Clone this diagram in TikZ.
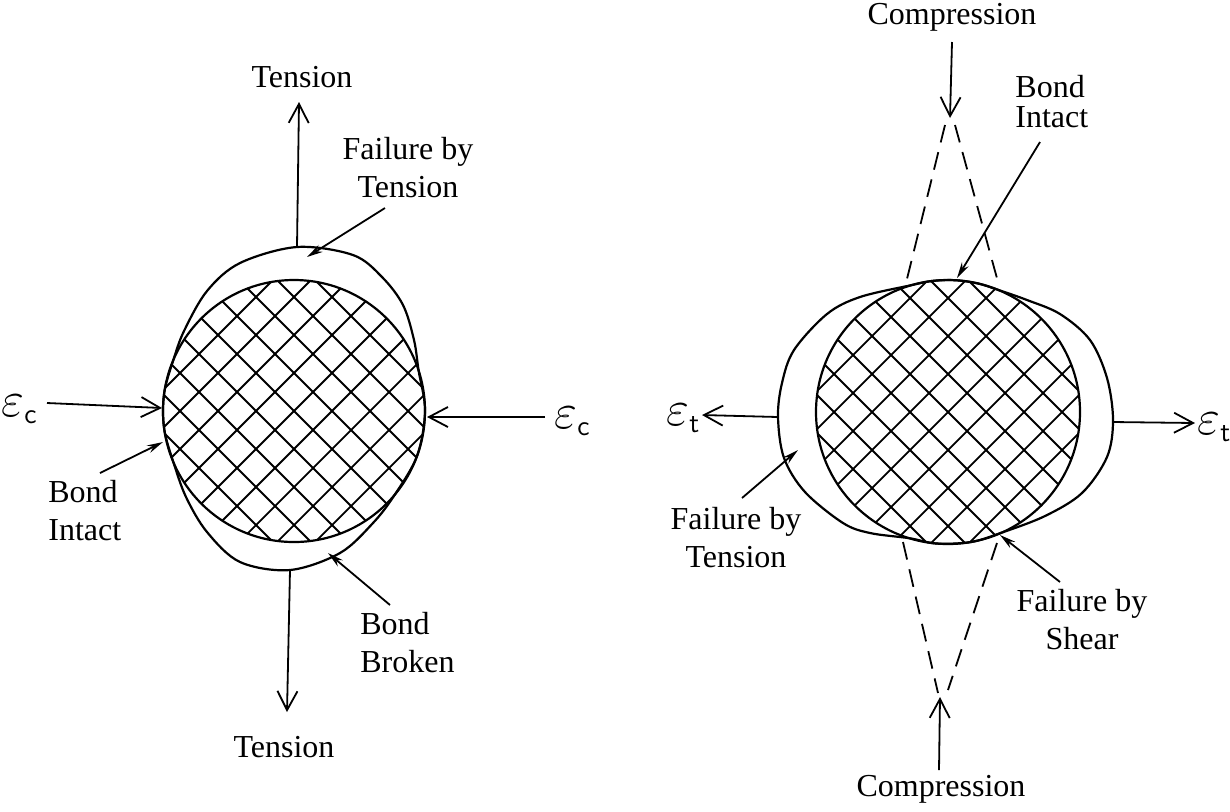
\documentclass[tikz,border=0pt]{standalone}
\usepackage{fontspec}
\setmainfont{Liberation Serif}
\usetikzlibrary{arrows.meta}

\newcommand{\strainsym}[1]{{\fontsize{25}{25}\selectfont$\varepsilon$}\raisebox{-3.5pt}{\fontsize{14}{14}\selectfont\sffamily #1}}

\begin{document}
\begin{tikzpicture}[x=0.5pt, y=-0.5pt,
  lbl/.style={font=\fontsize{16}{19}\selectfont, inner sep=0pt},
  strain/.style={inner sep=0pt},
  load/.style={-{Straight Barb[length=9.5pt,width=10pt]}, line width=0.9pt},
  pointer/.style={-{Stealth[length=8pt,width=4pt]}, line width=0.9pt},
  rim/.style={line width=1.1pt, line join=round},
  hatch/.style={line width=0.9pt},
  trace/.style={line width=0.9pt, dash pattern=on 9pt off 5pt}
]
\useasboundingbox (0,0) rectangle (1230,811);

% left specimen: compression across, tension along
\coordinate (lc) at (294,411);
\begin{scope}
  \clip (lc) circle[radius=131];
  \foreach \k in {-6,...,6} {
    \draw[hatch] ({294+\k*38-200},611) -- ++(400,-400);
    \draw[hatch] ({294+\k*38-200},211) -- ++(400,400);
  }
\end{scope}
\draw[rim] (lc) circle[radius=131];
\draw[rim] plot[smooth cycle, tension=0.55] coordinates {
  (173.4,462.2) (165,433.7) (163,411) (165,388.3) (173.4,359.8) (184,331)
  (207,291) (240,263) (297,247) (353,255) (382,277) (403,305) (414,340)
  (418.6,370.5) (425,411) (417.1,455.8) (394.4,495.2) (373,523) (340,553)
  (290,570) (240,562) (207,532) (186,497)};

\node[lbl] (lTenTop) at (302,77) {Tension};
\node[lbl, align=center] (lFail) at (408,168) {Failure by\\Tension};
\node[strain] (lEpsL) at (19,409) {\strainsym{c}};
\node[strain] (lEpsR) at (572,421) {\strainsym{c}};
\node[lbl, align=left, anchor=west] (lIntact) at (48,511) {Bond\\Intact};
\node[lbl, align=left, anchor=west] (lBroken) at (360,643) {Bond\\Broken};
\node[lbl] (lTenBot) at (284,747) {Tension};

\coordinate (lTopOut) at (297,247);
\coordinate (lTopTip) at (299,102);
\coordinate (lBotOut) at (290,570);
\coordinate (lBotTip) at (287,712);
\coordinate (lEpsLFrom) at (47,403);
\coordinate (lEpsLTip) at (162,408);
\coordinate (lEpsRFrom) at (545,417);
\coordinate (lEpsRTip) at (427,417);

\draw[load] (lTopOut) -- (lTopTip);
\draw[load] (lBotOut) -- (lBotTip);
\draw[load] (lEpsLFrom) -- (lEpsLTip);
\draw[load] (lEpsRFrom) -- (lEpsRTip);
\draw[pointer] (385,208) coordinate (lFailFrom) -- (307,257) coordinate (lFailTip);
\draw[pointer] (100,473) coordinate (lIntactFrom) -- (163,442) coordinate (lIntactTip);
\draw[pointer] (390,605) coordinate (lBrokenFrom) -- (328,553) coordinate (lBrokenTip);

% right specimen: tension across, compression along
\coordinate (rc) at (948,412);
\begin{scope}
  \clip (rc) circle[radius=132];
  \foreach \k in {-6,...,6} {
    \draw[hatch] ({948+\k*38-200},612) -- ++(400,-400);
    \draw[hatch] ({948+\k*38-200},212) -- ++(400,400);
  }
\end{scope}
\draw[rim] (rc) circle[radius=132];
\draw[rim] plot[smooth cycle, tension=0.55] coordinates {
  (911.6,285.1) (931.9,281) (954.9,280.2) (977.7,283.4) (998.5,290) (1027,300)
  (1060,314) (1090,340) (1107,378) (1113,420) (1107,457) (1082,493) (1045,516)
  (1000.6,533) (970.9,542) (936.5,543.5) (909.4,538.2) (870,533) (843,523)
  (805,492) (784,458) (778,417) (782,383) (794,350) (827,314) (860,297)};

\node[lbl] (rCompTop) at (952,17) {Compression};
\node[lbl, align=left, anchor=west] (rIntact) at (1015,102) {Bond\\[-4pt]Intact};
\node[strain] (rEpsL) at (683,418) {\strainsym{t}};
\node[strain] (rEpsR) at (1214,427) {\strainsym{t}};
\node[lbl, align=center] (rFail) at (736,538) {Failure by\\Tension};
\node[lbl, align=center] (rShear) at (1082,620) {Failure by\\Shear};
\node[lbl] (rCompBot) at (941,789) {Compression};

\coordinate (rTopFrom) at (952,42);
\coordinate (rTopTip) at (950,118);
\coordinate (rBotFrom) at (939,770);
\coordinate (rBotTip) at (940,697);
\coordinate (rEpsLFrom) at (778,417);
\coordinate (rEpsLTip) at (702,415);
\coordinate (rEpsRFrom) at (1113,422);
\coordinate (rEpsRTip) at (1195,423);

\draw[load] (rTopFrom) -- (rTopTip);
\draw[load] (rBotFrom) -- (rBotTip);
\draw[load] (rEpsLFrom) -- (rEpsLTip);
\draw[load] (rEpsRFrom) -- (rEpsRTip);

\draw[trace] (945,125) -- (905,287);
\draw[trace] (955,125) -- (998,282);
\draw[trace] (903,542) -- (938,693);
\draw[trace] (997,543) -- (948,690);

\draw[pointer] (1040,142) coordinate (rIntactFrom) -- (957,278) coordinate (rIntactTip);
\draw[pointer] (742,498) coordinate (rFailFrom) -- (798,450) coordinate (rFailTip);
\draw[pointer] (1060,582) coordinate (rShearFrom) -- (1000,535) coordinate (rShearTip);
\end{tikzpicture}
\end{document}
